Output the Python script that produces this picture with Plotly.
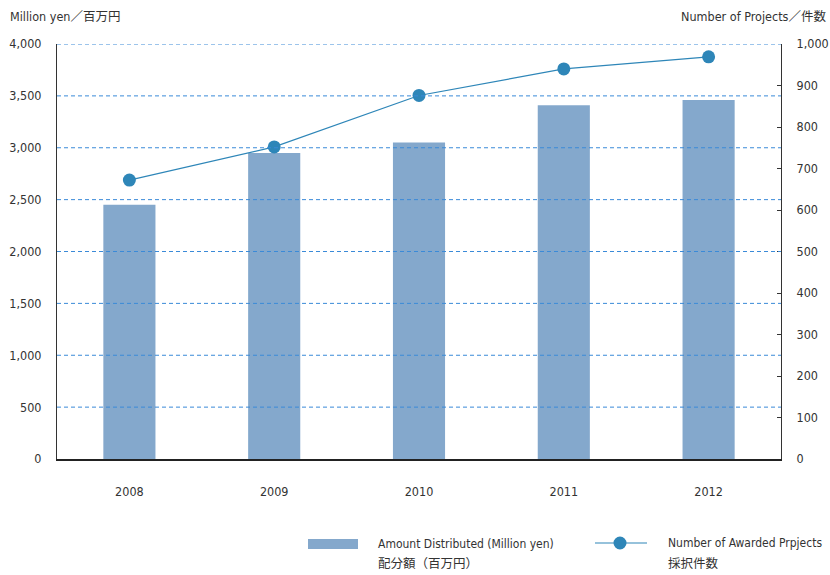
import plotly.graph_objects as go

years = ["2008", "2009", "2010", "2011", "2012"]
amount = [2450, 2950, 3050, 3410, 3460]
projects = [672, 752, 876, 940, 969]

left_ticks = [0, 500, 1000, 1500, 2000, 2500, 3000, 3500, 4000]
left_tick_text = ["0", "500", "1,000", "1,500", "2,000", "2,500", "3,000", "3,500", "4,000"]
right_ticks = [0, 100, 200, 300, 400, 500, 600, 700, 800, 900, 1000]
right_tick_text = ["0", "100", "200", "300", "400", "500", "600", "700", "800", "900", "1,000"]

FONT = "Liberation Sans Narrow, DejaVu Sans Condensed, Noto Sans CJK JP, sans-serif"
TXT = "#333333"
BAR = "#84a8cc"
LINE = "#2e86b8"
GRID = "#3a8ad8"
FS = 12.5

fig = go.Figure()
fig.add_trace(go.Bar(x=years, y=amount, marker=dict(color=BAR, line=dict(width=0)),
                     width=0.36, name="Amount Distributed (Million yen)", yaxis="y"))
fig.add_trace(go.Scatter(x=years, y=projects, mode="lines+markers",
                         line=dict(color=LINE, width=1.2),
                         marker=dict(color=LINE, size=13),
                         name="Number of Awarded Prpjects", yaxis="y2"))

W0, W1 = 57, 781
H0, H1 = 44, 459
def px(x):
    return (x - W0) / (W1 - W0)
def py(y):
    return (H1 - y) / (H1 - H0)

fig.update_layout(
    width=830, height=575,
    margin=dict(l=W0, r=830 - W1, t=H0, b=575 - H1, pad=0, autoexpand=False),
    paper_bgcolor="white", plot_bgcolor="white",
    showlegend=False,
    font=dict(family=FONT, size=FS, color=TXT),
    xaxis=dict(type="category", showgrid=False, showline=True, linecolor="#222222",
               linewidth=2, ticks="", ticklabelstandoff=20, automargin=False),
    yaxis=dict(range=[0, 4000], tickvals=left_ticks, ticktext=left_tick_text,
               showgrid=False, zeroline=False, showline=True, linecolor="#333333", linewidth=1,
               ticks="", ticklabelstandoff=12, automargin=False),
    yaxis2=dict(range=[0, 1000], tickvals=right_ticks, ticktext=right_tick_text,
                overlaying="y", side="right", showgrid=False, zeroline=False,
                showline=True, linecolor="#333333", linewidth=1,
                ticks="inside", ticklen=4, tickcolor="#333333", ticklabelstandoff=12,
                automargin=False),
)

ann = []
ann.append(dict(text="Million yen／百万円", x=px(8), y=py(17), xref="paper", yref="paper",
                xanchor="left", yanchor="middle", showarrow=False))
ann.append(dict(text="Number of Projects／件数", x=px(828), y=py(17), xref="paper", yref="paper",
                xanchor="right", yanchor="middle", showarrow=False))
ann.append(dict(text="Amount Distributed (Million yen)", x=px(376), y=py(544), xref="paper", yref="paper",
                xanchor="left", yanchor="middle", showarrow=False, font=dict(size=12)))
ann.append(dict(text="配分額（百万円）", x=px(376), y=py(563), xref="paper", yref="paper",
                xanchor="left", yanchor="middle", showarrow=False, font=dict(size=12.5)))
ann.append(dict(text="Number of Awarded Prpjects", x=px(666), y=py(543), xref="paper", yref="paper",
                xanchor="left", yanchor="middle", showarrow=False, font=dict(size=12)))
ann.append(dict(text="採択件数", x=px(666), y=py(563), xref="paper", yref="paper",
                xanchor="left", yanchor="middle", showarrow=False, font=dict(size=12.5)))
fig.update_layout(annotations=ann)

shapes = []
for v in left_ticks[1:]:
    shapes.append(dict(type="line", xref="paper", yref="y", x0=0, x1=1, y0=v, y1=v,
                       line=dict(color=GRID, width=1, dash="4px,3px"), layer="above"))
shapes.append(dict(type="rect", xref="paper", yref="paper", x0=px(308), x1=px(358),
                   y0=py(549), y1=py(539), fillcolor=BAR, line=dict(width=0)))
shapes.append(dict(type="line", xref="paper", yref="paper", x0=px(595), x1=px(647),
                   y0=py(543), y1=py(543), line=dict(color=LINE, width=1.2)))
shapes.append(dict(type="circle", xref="paper", yref="paper", x0=px(613.5), x1=px(626.5),
                   y0=py(549.5), y1=py(536.5), fillcolor=LINE, line=dict(width=0)))
fig.update_layout(shapes=shapes)

fig.write_html("out.html", config={"displayModeBar": False},
               post_script="document.body.style.margin='0';document.body.style.padding='0';")
